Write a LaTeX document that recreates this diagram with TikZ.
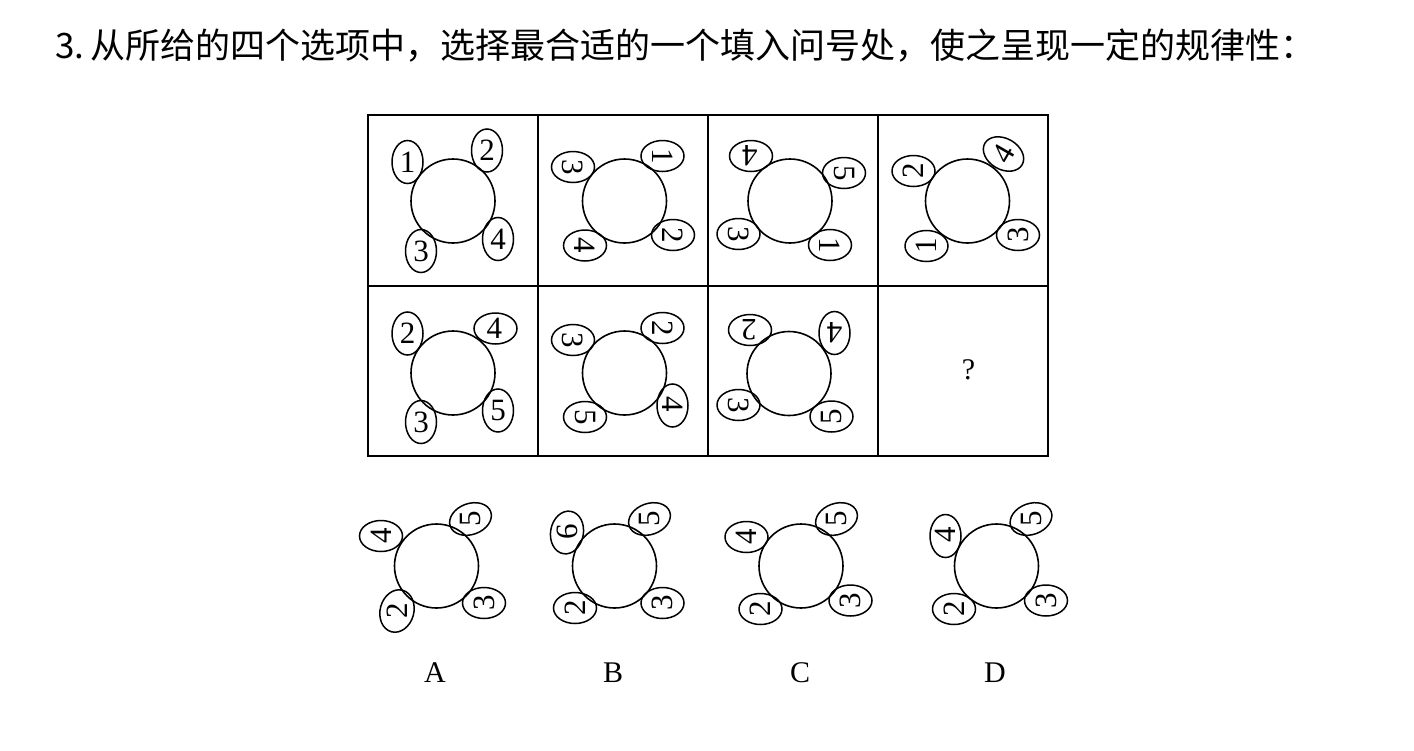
\documentclass[tikz,border=0pt]{standalone}
\usepackage{graphicx}
\usepackage{fontspec}
\setmainfont{Liberation Serif}
\newfontfamily\cjk{Noto Sans CJK SC}
\usetikzlibrary{shapes.geometric}
\newcommand{\uu}[6]{\node[unit,rotate=#4] (#1) at (#2,#3) {\rotatebox[origin=c]{#5}{#6}};}
\begin{document}
\begin{tikzpicture}[x=1pt,y=-1pt,
  cellbox/.style={draw,line width=2pt,minimum width=170pt,minimum height=170.5pt,inner sep=0pt},
  disc/.style={draw,circle,line width=1.6pt,minimum size=84pt,inner sep=0pt},
  unit/.style={draw,ellipse,line width=1.5pt,minimum width=31pt,minimum height=43pt,inner sep=0pt,font=\fontsize{31}{33}\selectfont},
  lab/.style={inner sep=0pt,font=\fontsize{30}{33}\selectfont}]
\useasboundingbox (0,0) rectangle (1414,750);
\node[anchor=base west,inner sep=0pt,font=\fontsize{35}{40}\selectfont\cjk] (title) at (55,58) {3.\,从所给的四个选项中，选择最合适的一个填入问号处，使之呈现一定的规律性：};
% grid
\node[cellbox] (g1) at (453,200.25) {};
\node[cellbox] (g2) at (623,200.25) {};
\node[cellbox] (g3) at (793,200.25) {};
\node[cellbox] (g4) at (963,200.25) {};
\node[cellbox] (g5) at (453,370.75) {};
\node[cellbox] (g6) at (623,370.75) {};
\node[cellbox] (g7) at (793,370.75) {};
\node[cellbox] (g8) at (963,370.75) {};
% circles
\node[disc] (c1) at (453,201) {};
\node[disc] (c2) at (624.5,201) {};
\node[disc] (c3) at (790,201) {};
\node[disc] (c4) at (967.5,201) {};
\node[disc] (c5) at (453,373) {};
\node[disc] (c6) at (624.5,373) {};
\node[disc] (c7) at (789,373.5) {};
\node[disc] (oA) at (436.5,566) {};
\node[disc] (oB) at (614.5,566) {};
\node[disc] (oC) at (801,566) {};
\node[disc] (oD) at (996.5,566) {};
% cell 1
\uu{a1}{407.5}{162}{0}{0}{1}
\uu{a2}{487}{150.5}{0}{0}{2}
\uu{a3}{421}{251}{0}{0}{3}
\uu{a4}{498}{239}{0}{0}{4}
% cell 2
\uu{b3}{573}{167}{-90}{0}{3}
\uu{b1}{662.5}{156}{-90}{0}{1}
\uu{b4}{585}{245.5}{-90}{0}{4}
\uu{b2}{673}{235}{-90}{0}{2}
% cell 3
\uu{d4}{751}{156}{90}{90}{4}
\uu{d5}{844}{173}{-90}{0}{5}
\uu{d3}{738.5}{234}{-90}{0}{3}
\uu{d1}{830}{245}{-90}{0}{1}
% cell 4
\uu{e2}{913.5}{171}{90}{0}{2}
\uu{e4}{1003.5}{154}{60}{0}{4}
\uu{e1}{926.5}{246}{90}{0}{1}
\uu{e3}{1018}{235}{90}{0}{3}
% cell 5
\uu{f2}{407.5}{333.5}{0}{0}{2}
\uu{f4}{495.5}{328.5}{90}{-90}{4}
\uu{f3}{421}{422}{0}{0}{3}
\uu{f5}{498}{410.5}{0}{0}{5}
% cell 6
\uu{g3u}{573}{340}{-90}{0}{3}
\uu{g2u}{662.5}{328}{-90}{0}{2}
\uu{g5u}{585}{417}{-90}{0}{5}
\uu{g4u}{672.5}{405.5}{0}{-90}{4}
% cell 7
\uu{h2}{750}{330}{90}{90}{2}
\uu{h4}{834.5}{333}{180}{0}{4}
\uu{h3}{738.5}{405}{-90}{0}{3}
\uu{h5}{831.5}{416.5}{90}{0}{5}
% question
\node[lab] (q) at (968.5,370) {?};
% option A
\uu{pA4}{381}{536}{90}{0}{4}
\uu{pA5}{470.5}{519}{110}{-20}{5}
\uu{pA2}{397}{611}{-15}{105}{2}
\uu{pA3}{484}{603}{90}{0}{3}
% option B
\uu{pB6}{567}{532.5}{-10}{100}{6}
\uu{pB5}{649.5}{519}{110}{-20}{5}
\uu{pB2}{575}{608}{90}{0}{2}
\uu{pB3}{662.5}{603}{90}{0}{3}
% option C
\uu{pC4}{746.5}{537}{90}{0}{4}
\uu{pC5}{836.5}{519}{110}{-20}{5}
\uu{pC2}{760.5}{609}{90}{0}{2}
\uu{pC3}{850.5}{600.5}{90}{0}{3}
% option D
\uu{pD4}{945.5}{536}{0}{90}{4}
\uu{pD5}{1031}{519}{110}{-20}{5}
\uu{pD2}{954}{609}{90}{0}{2}
\uu{pD3}{1046}{600.5}{90}{0}{3}
% labels
\node[lab] (lA) at (435,673) {A};
\node[lab] (lB) at (613,673) {B};
\node[lab] (lC) at (800,673) {C};
\node[lab] (lD) at (995,673) {D};
\end{tikzpicture}
\end{document}
